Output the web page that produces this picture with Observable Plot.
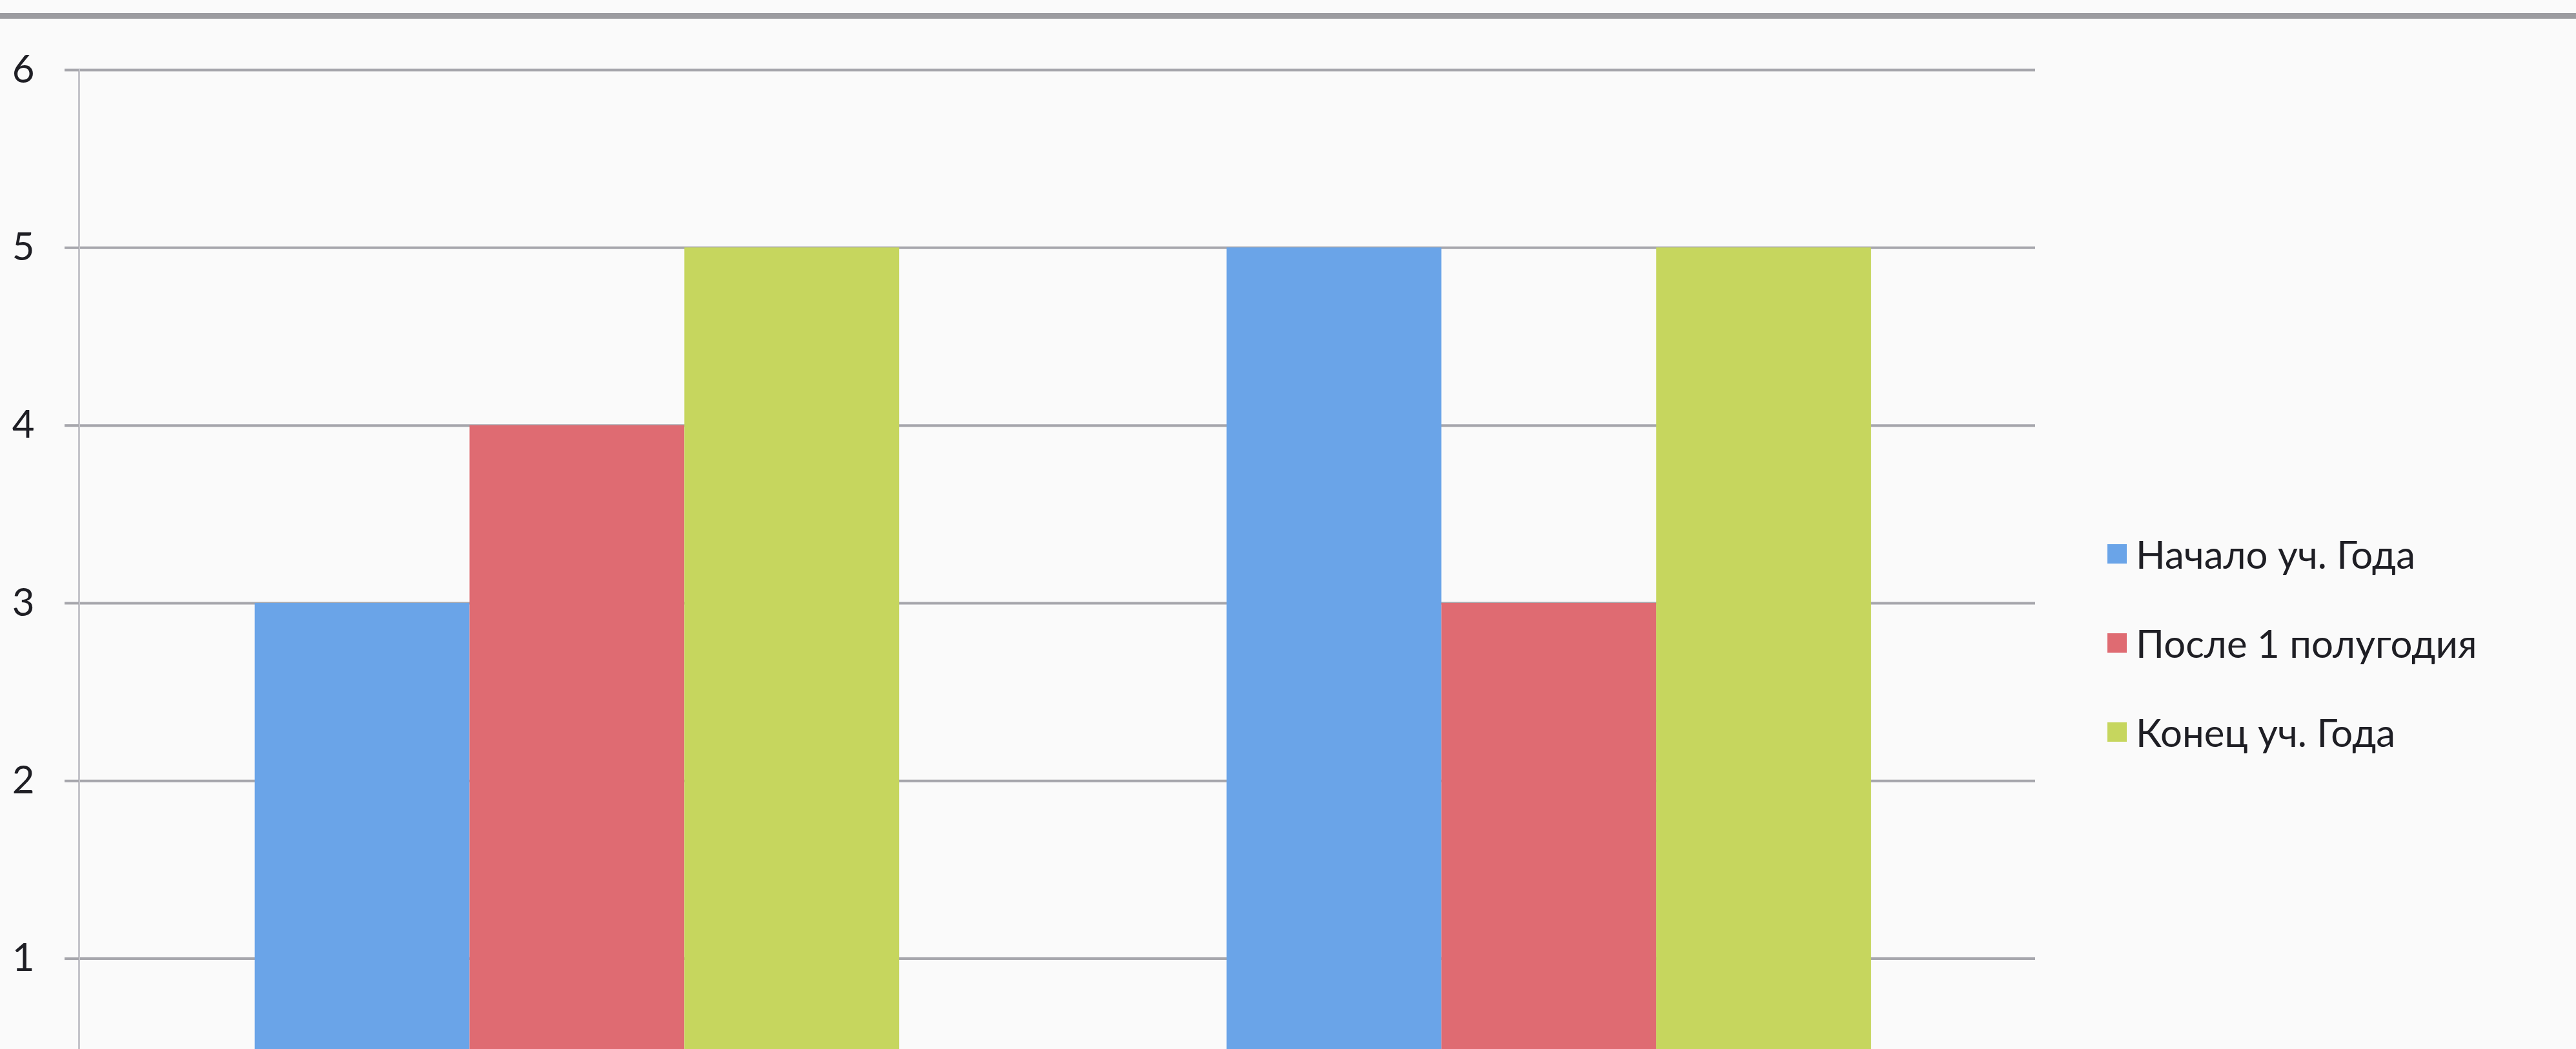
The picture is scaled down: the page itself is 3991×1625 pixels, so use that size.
<!DOCTYPE html>
<html>
<head>
<meta charset="utf-8">
<script src="https://cdn.jsdelivr.net/npm/d3@7"></script>
<script src="https://cdn.jsdelivr.net/npm/@observablehq/plot@0.6"></script>
<style>
  html, body { margin: 0; padding: 0; background: #fafafa; overflow: hidden; }
  #wrap { position: relative; width: 3991px; height: 1625px; overflow: hidden; background: #fafafa; }
  #chart { position: absolute; left: 0; top: 0; }
  #topline { position: absolute; left: 0; top: 20px; width: 3991px; height: 9px; background: #9c9ca0; }
  #legend { position: absolute; left: 3265px; top: 789px; font-family: Lato, "Open Sans", sans-serif; font-size: 60px; color: #1e1e24; }
  #legend .row { display: flex; align-items: center; height: 138px; white-space: nowrap; }
  #legend .sw { width: 30px; height: 30px; margin-right: 14px; flex: none; }
</style>
</head>
<body>
<div id="wrap">
  <div id="chart"></div>
  <div id="topline"></div>
  <div id="legend"></div>
</div>
<script>
// ---- data ----
const categories = ["Категория 1", "Категория 2"];
const series = ["Начало уч. Года", "После 1 полугодия", "Конец уч. Года"];
const seriesColors = ["#6aa4e8", "#df6b72", "#c6d65e"];
const valuesStart = [3, 5];
const valuesHalf = [4, 3];
const valuesEnd = [5, 5];
const yTicks = [1, 2, 3, 4, 5, 6];

const seriesValues = [valuesStart, valuesHalf, valuesEnd];
const data = categories.flatMap((c, i) =>
  series.map((s, j) => ({category: c, series: s, value: seriesValues[j][i]})));

// ---- layout ----
const W = 3991, H = 1625, ML = 122, MR = 838, MT = 108;
const padIn = 0.3369, padOut = 0.1749, align = 0.5176;
const step = (W - ML - MR) / (categories.length - padIn + 2 * padOut);
const bw = step * (1 - padIn);
const sub = bw / series.length;

const barMarks = series.map((s, j) =>
  Plot.barY(data.filter(d => d.series === s), {
    x: "category",
    y: "value",
    fill: "series",
    insetLeft: j * sub,
    insetRight: (series.length - 1 - j) * sub,
    clip: true
  }));

const chart = Plot.plot({
  width: W,
  height: H,
  marginLeft: ML,
  marginRight: MR,
  marginTop: MT,
  marginBottom: 0,
  style: {background: "transparent", fontFamily: "Lato, 'Open Sans', sans-serif", color: "#1e1e24"},
  x: {type: "band", domain: categories, paddingInner: padIn, paddingOuter: padOut, align, round: false, axis: null},
  y: {domain: [0.49, 6], axis: null},
  color: {domain: series, range: seriesColors},
  marks: [
    Plot.gridY(yTicks, {stroke: "#a6a6ac", strokeOpacity: 1, strokeWidth: 4}),
    Plot.frame({anchor: "left", stroke: "#c4c4ca", strokeWidth: 3}),
    Plot.axisY(yTicks, {
      anchor: "left",
      tickSize: 22,
      tickPadding: 47,
      stroke: "#a6a6ac",
      strokeWidth: 4,
      fill: "#1e1e24",
      fontSize: 60,
      tickFormat: d => String(d),
      label: null
    }),
    ...barMarks
  ]
});
document.getElementById("chart").appendChild(chart);

// ---- legend (right side) ----
const legend = document.getElementById("legend");
series.forEach((s, j) => {
  const row = document.createElement("div");
  row.className = "row";
  const sw = document.createElement("div");
  sw.className = "sw";
  sw.style.background = seriesColors[j];
  const t = document.createElement("span");
  t.textContent = s;
  row.appendChild(sw);
  row.appendChild(t);
  legend.appendChild(row);
});
</script>
</body>
</html>
